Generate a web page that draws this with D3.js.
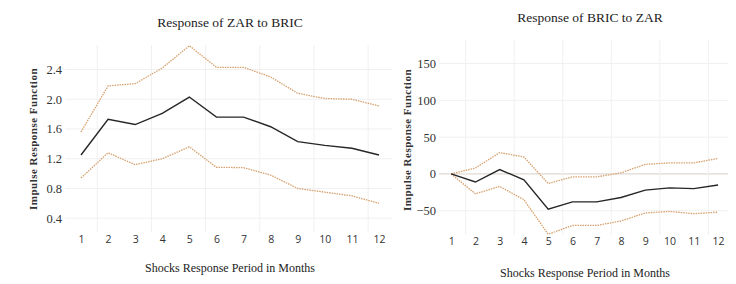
<!DOCTYPE html>
<html>
<head>
<meta charset="utf-8">
<script src="https://cdn.jsdelivr.net/npm/d3@7"></script>
<style>
  body { margin: 0; background: #fff; }
  svg { display: block; }
</style>
</head>
<body>
<svg id="chart"></svg>
<script>
// months on the x axis
const months = [1, 2, 3, 4, 5, 6, 7, 8, 9, 10, 11, 12];

// Response of ZAR to BRIC
const zarMid = [1.25, 1.73, 1.66, 1.81, 2.03, 1.76, 1.76, 1.63, 1.43, 1.38, 1.34, 1.25];
const zarUpper = [1.56, 2.18, 2.21, 2.42, 2.72, 2.43, 2.43, 2.30, 2.08, 2.01, 2.00, 1.91];
const zarLower = [0.94, 1.28, 1.12, 1.20, 1.36, 1.085, 1.08, 0.98, 0.80, 0.75, 0.70, 0.60];
const zarTicks = [0.4, 0.8, 1.2, 1.6, 2.0, 2.4];

// Response of BRIC to ZAR
const bricMid = [0, -11, 6, -8, -48, -38, -38, -32, -22, -19, -20, -15];
const bricUpper = [0, 8, 29, 23, -13, -4, -4, 1.5, 13, 15, 15, 21];
const bricLower = [0, -27, -17, -35, -82, -70, -70, -64, -53, -51, -54, -52];
const bricTicks = [-50, 0, 50, 100, 150];

// faint vertical grid positions (between month ticks)
const vGrid = [1.6, 3.6, 5.6, 7.6, 9.6, 11.6];

const W = 736, H = 284;
const svg = d3.select('#chart').attr('width', W).attr('height', H);

const serif = '"Liberation Serif", "DejaVu Serif", serif';
const sans = '"Open Sans", "Liberation Sans", sans-serif';

function drawPanel(cfg) {
  const x = d3.scaleLinear().domain(cfg.xDomain).range([cfg.left, cfg.right]);
  const y = d3.scaleLinear().domain(cfg.yDomain).range([cfg.bottom, cfg.top]);
  const g = svg.append('g');

  // grid
  g.selectAll('.hg').data(cfg.yTicks).enter().append('line')
    .attr('x1', cfg.left).attr('x2', cfg.right)
    .attr('y1', d => y(d)).attr('y2', d => y(d))
    .attr('stroke', d => (d === 0 && cfg.zeroLine) ? '#d6cfc8' : '#f0f0f0')
    .attr('stroke-width', 1);
  g.selectAll('.vg').data(vGrid).enter().append('line')
    .attr('x1', d => x(d)).attr('x2', d => x(d))
    .attr('y1', cfg.top).attr('y2', cfg.bottom)
    .attr('stroke', '#f0f0f0').attr('stroke-width', 1);

  // axes (labels only, no domain line)
  const yAxis = g.append('g')
    .attr('transform', `translate(${cfg.left - 3},0)`)
    .call(d3.axisLeft(y).tickValues(cfg.yTicks).tickSize(0).tickPadding(0)
      .tickFormat(cfg.yFormat));
  yAxis.select('.domain').remove();
  yAxis.attr('font-family', null);
  yAxis.selectAll('text').style('font-family', serif).style('font-size', '12.5px').attr('fill', '#333');

  const xAxis = g.append('g')
    .attr('transform', `translate(0,${cfg.xTickY})`)
    .call(d3.axisBottom(x).tickValues(months).tickSize(0).tickPadding(0).tickFormat(d3.format('d')));
  xAxis.select('.domain').remove();
  xAxis.selectAll('text').style('font-family', sans).style('font-size', '10.5px').attr('fill', '#333');

  const line = d3.line().x((d, i) => x(months[i])).y(d => y(d));

  [cfg.upper, cfg.lower].forEach(s => {
    g.append('path').datum(s)
      .attr('d', line).attr('fill', 'none')
      .attr('stroke', '#d6a06e').attr('stroke-width', 1.3)
      .attr('stroke-dasharray', '1.5,1');
  });
  g.append('path').datum(cfg.mid)
    .attr('d', line).attr('fill', 'none')
    .attr('stroke', '#262626').attr('stroke-width', 1.4);

  // titles
  g.append('text')
    .attr('x', cfg.titleX).attr('y', cfg.titleY)
    .attr('text-anchor', 'middle')
    .attr('font-family', serif).attr('font-size', 13.5).attr('fill', '#222')
    .text(cfg.title);

  g.append('text')
    .attr('x', cfg.xLabelX).attr('y', cfg.xLabelY)
    .attr('text-anchor', 'middle')
    .attr('font-family', serif).attr('font-size', 12).attr('fill', '#222')
    .text('Shocks Response Period in Months');

  g.append('text')
    .attr('transform', `translate(${cfg.yLabelX},${cfg.yLabelY}) rotate(-90)`)
    .attr('text-anchor', 'middle')
    .attr('font-family', serif).attr('font-size', 11).attr('font-weight', 'bold')
    .attr('letter-spacing', 0.5).attr('fill', '#333')
    .text('Impulse Response Function');
}

drawPanel({
  left: 65, right: 392, top: 45, bottom: 232,
  xDomain: [0.41, 12.48], yDomain: [0.214, 2.73],
  yTicks: zarTicks, yFormat: d3.format('.1f'),
  mid: zarMid, upper: zarUpper, lower: zarLower,
  xTickY: 236,
  title: 'Response of ZAR to BRIC', titleX: 230, titleY: 27,
  xLabelX: 230, xLabelY: 272,
  yLabelX: 37, yLabelY: 139,
  zeroLine: false
});

drawPanel({
  left: 439, right: 728, top: 40, bottom: 235,
  xDomain: [0.5, 12.41], yDomain: [-83, 182],
  yTicks: bricTicks, yFormat: d3.format('d'),
  mid: bricMid, upper: bricUpper, lower: bricLower,
  xTickY: 238,
  title: 'Response of BRIC to ZAR', titleX: 590, titleY: 22,
  xLabelX: 585, xLabelY: 277,
  yLabelX: 411, yLabelY: 140,
  zeroLine: true
});
</script>
</body>
</html>
